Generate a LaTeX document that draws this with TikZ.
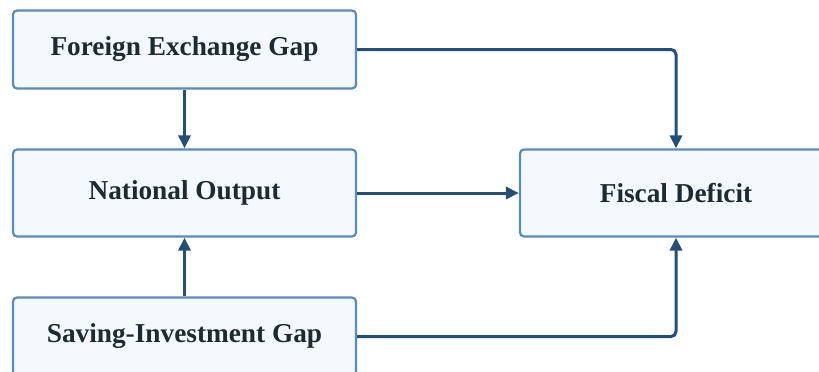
\documentclass[tikz,border=0pt]{standalone}
\usepackage{fontspec}
\setmainfont{Liberation Serif}
\usetikzlibrary{positioning,arrows.meta}
\definecolor{boxfill}{HTML}{F4F9FE}
\definecolor{boxedge}{HTML}{5A8BBD}
\definecolor{flowline}{HTML}{234E78}
\definecolor{labeltext}{HTML}{1E2A30}
\begin{document}
\begin{tikzpicture}[x=1pt,y=-1pt,
    block/.style={rectangle, draw=boxedge, fill=boxfill, line width=2.2pt, rounded corners=4pt, minimum width=343pt, minimum height=78pt, text=labeltext, font=\fontsize{27.3}{32}\selectfont\bfseries},
    flow/.style={draw=flowline, line width=3pt, rounded corners=5pt, -{Triangle[length=13pt,width=12pt]}}]
    \useasboundingbox (0,0) rectangle (819,372);
    \node[block] (FEG) at (184.5,49.5) {Foreign Exchange Gap};
    \node[block, minimum height=87pt] (NO) at (184.5,193) {National Output};
    \node[block] (SIG) at (184.5,336.5) {Saving-Investment Gap};
    \node[block, minimum width=312pt, minimum height=87pt] (FD) at (676,193) {Fiscal Deficit};
    \draw[flow] (FEG) -- (NO);
    \draw[flow] (SIG) -- (NO);
    \draw[flow] (NO) -- (FD);
    \draw[flow] (FEG.east) -| (FD);
    \draw[flow] (SIG.east) -| (FD);
\end{tikzpicture}
\end{document}
